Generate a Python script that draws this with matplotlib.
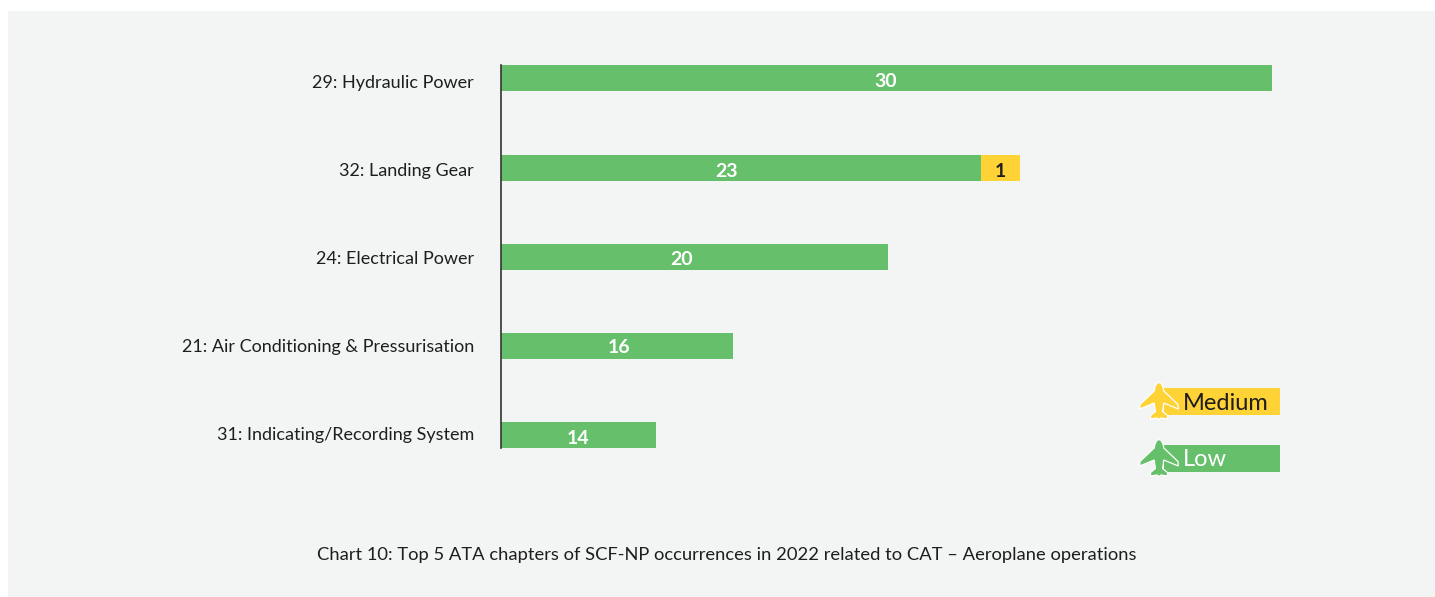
import numpy as np
import matplotlib
matplotlib.use("Agg")
import matplotlib.pyplot as plt
from matplotlib.patches import Rectangle, Polygon

W, H = 1435, 597

CATEGORIES = ["29: Hydraulic Power", "32: Landing Gear", "24: Electrical Power",
              "21: Air Conditioning & Pressurisation", "31: Indicating/Recording System"]
LOW = [30, 23, 20, 16, 14]
MEDIUM = [0, 1, 0, 0, 0]
CAPTION = "Chart 10: Top 5 ATA chapters of SCF-NP occurrences in 2022 related to CAT \u2013 Aeroplane operations"

GREEN = "#66BF6A"
YELLOW = "#FFD236"
PANEL = "#F3F5F4"
DARK = "#1E1E1E"

# the source bars are not drawn to a linear scale, so the axis bends to match
SCALE_VALUES = [0, 14, 16, 20, 23, 24, 30]
SCALE_PIXELS = [0, 155, 232, 387, 480, 519, 771]

# hand placement of texts, pixels from the top of the image
TICK_Y_PX = [81.8, 169.8, 257.8, 345.8, 433.8]
LOW_LABEL_PX = [(886, 81.5), (726, 171.5), (682, 259.5), (619, 347.5), (578, 438)]
MEDIUM_LABEL_PX = (1000, 171.5)

ROW_PX = 89.25
BAR_PX = 26
AX_TOP = 65.3

plt.rcParams["font.family"] = ["Lato", "DejaVu Sans"]


def to_fig(x, y):
    return x / W, 1 - y / H


def px_rect(left, top, right, bottom):
    return [left / W, 1 - bottom / H, (right - left) / W, (bottom - top) / H]


def forward(v):
    return np.interp(v, SCALE_VALUES, SCALE_PIXELS)


def inverse(p):
    return np.interp(p, SCALE_PIXELS, SCALE_VALUES)


def draw_plane(fig, cx, top, color):
    # half outline of the aeroplane icon, offsets in pixels from nose
    half = [(0, -0.5), (2.2, 0.5), (4, 4), (4.8, 8), (19, 21.5), (19.3, 26), (4.8, 20),
            (3.6, 28.5), (8.5, 32.5), (8.5, 36), (2, 35), (0, 36.5)]
    pts = [(cx + dx, top + dy) for dx, dy in half]
    pts += [(cx - dx, top + dy) for dx, dy in half[-2:0:-1]]
    pts = [to_fig(x, y) for x, y in pts]
    fig.add_artist(Polygon(pts, closed=True, transform=fig.transFigure,
                           facecolor=color, edgecolor="white", linewidth=0.9, zorder=5))


fig = plt.figure(figsize=(W / 100, H / 100), dpi=100, facecolor="white")
fig.add_artist(Rectangle((8 / W, 0), (W - 8) / W, 1 - 11 / H, transform=fig.transFigure,
                         facecolor=PANEL, edgecolor="none", zorder=-5))

ax = fig.add_axes(px_rect(501, AX_TOP, 1272, AX_TOP + 4 * ROW_PX + BAR_PX))
ax.patch.set_alpha(0)
ax.set_xscale("function", functions=(forward, inverse))

y = np.arange(len(CATEGORIES))
ax.barh(y, LOW, height=BAR_PX / ROW_PX, color=GREEN)
ax.barh(y, MEDIUM, left=LOW, height=BAR_PX / ROW_PX, color=YELLOW)
ax.set_xlim(0, 30)
half_bar = BAR_PX / 2 / ROW_PX
ax.set_ylim(4 + half_bar, -half_bar)

for s in ["top", "right", "bottom"]:
    ax.spines[s].set_visible(False)
ax.spines["left"].set_color("#333333")
ax.spines["left"].set_linewidth(1.2)
ax.set_xticks([])
ax.xaxis.set_minor_locator(matplotlib.ticker.NullLocator())

ax.set_yticks([(p - AX_TOP - BAR_PX / 2) / ROW_PX for p in TICK_Y_PX])
ax.set_yticklabels(CATEGORIES, fontsize=13, color=DARK)
ax.tick_params(axis="y", length=0, pad=19.5)

for v, (px, py) in zip(LOW, LOW_LABEL_PX):
    fx, fy = to_fig(px, py)
    fig.text(fx, fy, str(v), color="white", fontsize=14, fontweight="bold", ha="center", va="center")
fx, fy = to_fig(*MEDIUM_LABEL_PX)
fig.text(fx, fy, "1", color=DARK, fontsize=14, fontweight="bold", ha="center", va="center")

# legend
fig.add_artist(Rectangle((1164 / W, 1 - 415 / H), 116 / W, 27 / H, transform=fig.transFigure,
                         facecolor=YELLOW, edgecolor="none"))
fig.add_artist(Rectangle((1164 / W, 1 - 472 / H), 116 / W, 27 / H, transform=fig.transFigure,
                         facecolor=GREEN, edgecolor="none"))
draw_plane(fig, 1159, 383, YELLOW)
draw_plane(fig, 1159, 440, GREEN)
fx, fy = to_fig(1183, 403)
fig.text(fx, fy, "Medium", color=DARK, fontsize=17, ha="left", va="center", zorder=6)
fx, fy = to_fig(1183, 459)
fig.text(fx, fy, "Low", color="white", fontsize=17, ha="left", va="center", zorder=6)

fx, fy = to_fig(726.5, 555)
fig.text(fx, fy, CAPTION, color=DARK, fontsize=13.2, ha="center", va="center")

fig.savefig("out.png", dpi=100, facecolor="white")
plt.close(fig)
